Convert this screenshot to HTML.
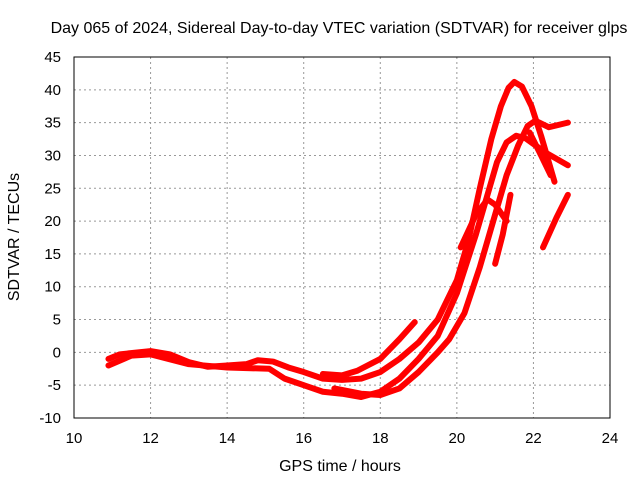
<!DOCTYPE html>
<html><head><meta charset="utf-8"><style>
body{margin:0;background:#fff}
svg text{font-family:"Liberation Sans",sans-serif;font-size:15px;fill:#000}
svg text.big{font-size:16px}
</style></head><body>
<svg width="640" height="480">
<text class="big" x="339" y="33" text-anchor="middle">Day 065 of 2024, Sidereal Day-to-day VTEC variation (SDTVAR) for receiver glps</text>
<g id="grid"></g>
<rect x="74" y="57" width="536" height="361" fill="none" stroke="#000"/>
<g id="ticks"></g>
<g id="series"></g>
<text class="big" x="340" y="471" text-anchor="middle">GPS time / hours</text>
<text class="big" transform="translate(19,237) rotate(-90)" text-anchor="middle">SDTVAR / TECUs</text>
</svg>
<script>
const xTicks=[10,12,14,16,18,20,22,24];
const yTicks=[-10,-5,0,5,10,15,20,25,30,35,40,45];
const seriesA=[[10.9,-1],[11.2,-0.3],[12,0.2],[12.5,-0.3],[13,-1.5],[13.5,-2.2],[14,-2],[14.5,-1.8],[14.8,-1.2],[15.2,-1.4],[15.6,-2.3],[16,-3],[16.5,-4],[17,-4.2],[17.5,-4],[18,-3],[18.5,-1],[19,1.5],[19.5,5],[20,11],[20.3,17],[20.6,25],[20.9,32.5],[21.15,37.5],[21.35,40.3],[21.5,41.2],[21.7,40.5],[21.95,37.5],[22.2,33],[22.4,29],[22.55,26]];
const seriesB=[[10.9,-2],[11.5,-0.5],[12,-0.3],[13,-1.8],[14,-2.3],[15.1,-2.5],[15.5,-4],[16,-5],[16.5,-6],[17,-6.3],[17.5,-6.8],[18,-6],[18.5,-4],[19,-1],[19.5,2.5],[20,9],[20.5,18],[20.8,24],[21.05,29],[21.3,32],[21.55,33],[21.8,32.6],[22.3,30.5],[22.9,28.5]];
const seriesC=[[16.8,-5.5],[17.5,-6.3],[18,-6.5],[18.5,-5.5],[19,-3],[19.5,0],[19.8,2],[20.2,6],[20.6,13],[21,21],[21.3,27],[21.6,31.5],[21.85,34.5],[22.05,35.3],[22.4,34.3],[22.9,35]];
const seriesD=[[16.5,-3.3],[17,-3.5],[17.4,-2.8],[18,-1],[18.5,2],[18.9,4.6]];
const seriesE=[[20.1,16],[20.5,21],[20.8,23.3],[21.0,22.5],[21.3,20]];
const seriesF=[[21.0,13.5],[21.2,18],[21.4,24]];
const seriesG=[[22.25,16],[22.6,20.5],[22.9,24]];
const seriesH=[[21.9,33.5],[22.2,30],[22.45,27]];
const allSeries=[seriesA,seriesB,seriesC,seriesD,seriesE,seriesF,seriesG,seriesH];
const X=h=>74+(h-10)*536/14, Y=v=>57+(45-v)*361/55;
const NS='http://www.w3.org/2000/svg';
const grid=document.getElementById('grid'),ticks=document.getElementById('ticks'),ser=document.getElementById('series');
function mk(tag,a,p){const e=document.createElementNS(NS,tag);for(const k in a)e.setAttribute(k,a[k]);p.appendChild(e);return e;}
xTicks.forEach(t=>{const x=X(t);
 if(t>10&&t<24){const g=mk('line',{x1:x,x2:x,y1:57,y2:418,stroke:'#999','stroke-dasharray':'2,3'},grid);
 
 }
 const l=mk('text',{x:x,y:443,'text-anchor':'middle'},ticks);l.textContent=t;
 
 });
yTicks.forEach(t=>{const y=Y(t);
 if(t>-10&&t<45){const g=mk('line',{x1:74,x2:610,y1:y,y2:y,stroke:'#999','stroke-dasharray':'2,3'},grid);
 
 }
 const l=mk('text',{x:61,y:y+5,'text-anchor':'end'},ticks);l.textContent=t;
 
 });
allSeries.forEach((s,i)=>{
 const p=mk('polyline',{points:s.map(d=>X(d[0])+','+Y(d[1])).join(' '),fill:'none',stroke:'#f00','stroke-width':6,'stroke-linejoin':'round','stroke-linecap':'round'},ser);
 
 
});
</script>
</body></html>
